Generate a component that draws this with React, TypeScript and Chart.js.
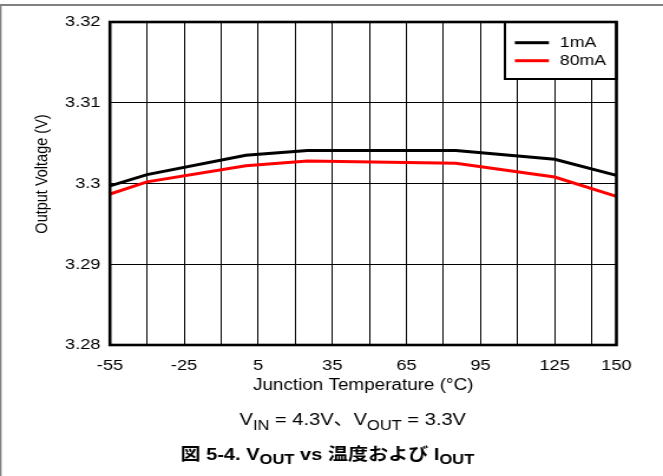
import React, { useEffect, useRef } from 'react';
import { Chart, registerables } from 'chart.js';

Chart.register(...registerables);

// ---- data ----
const temperatures = [-55, -40, 0, 25, 85, 125, 150];
const vout1mA = [3.2997, 3.3011, 3.3035, 3.3041, 3.3041, 3.303, 3.301];
const vout80mA = [3.2987, 3.3002, 3.3022, 3.3028, 3.3025, 3.3008, 3.2984];
const seriesNames = ['1mA', '80mA'];
const seriesColors = ['#000000', '#ff0000'];
const xGridValues = [-55, -40, -25, -10, 5, 20, 35, 50, 65, 80, 95, 110, 125, 140, 150];
const xLabelValues = [-55, -25, 5, 35, 65, 95, 125, 150];
const yTickValues = [3.28, 3.29, 3.3, 3.31, 3.32];
const xTitle = 'Junction Temperature (°C)';
const yTitle = 'Output Voltage (V)';

// ---- layout ----
const CW = 562;
const CH = 476;
const FONT = "'Liberation Sans', Arial, 'Noto Sans CJK JP', sans-serif";

type Run = { text: string; font: string; dy: number };

function drawRuns(ctx: CanvasRenderingContext2D, runs: Run[], cx: number, baseline: number) {
  let total = 0;
  runs.forEach((r) => {
    ctx.font = r.font;
    total += ctx.measureText(r.text).width;
  });
  let x = cx - total / 2;
  ctx.textAlign = 'left';
  ctx.textBaseline = 'alphabetic';
  runs.forEach((r) => {
    ctx.font = r.font;
    ctx.fillText(r.text, x, baseline + r.dy);
    x += ctx.measureText(r.text).width;
  });
}

const decorPlugin = {
  id: 'decor',
  beforeDraw(chart: any) {
    const ctx: CanvasRenderingContext2D = chart.ctx;
    ctx.save();
    ctx.fillStyle = '#ffffff';
    ctx.fillRect(0, 0, chart.width, chart.height);
    ctx.fillStyle = '#808080';
    ctx.fillRect(0, 4, chart.width, 2);
    ctx.fillRect(0, 4, 1.3, chart.height);
    ctx.restore();
  },
  afterDatasetsDraw(chart: any) {
    const ctx: CanvasRenderingContext2D = chart.ctx;
    const a = chart.chartArea;
    ctx.save();

    // legend box
    const lw = 94.5;
    const lh = 57;
    const lx = a.right - lw;
    const ly = a.top;
    ctx.fillStyle = '#ffffff';
    ctx.fillRect(lx, ly, lw, lh);
    ctx.strokeStyle = '#000';
    ctx.lineWidth = 2;
    ctx.strokeRect(lx, ly, lw, lh);
    chart.data.datasets.forEach((ds: any, i: number) => {
      const y = ly + 20.7 + i * 18;
      ctx.strokeStyle = ds.borderColor;
      ctx.lineWidth = 3;
      ctx.beginPath();
      ctx.moveTo(lx + 8.4, y);
      ctx.lineTo(lx + 37.3, y);
      ctx.stroke();
      ctx.fillStyle = '#000';
      ctx.font = `15px ${FONT}`;
      ctx.textAlign = 'left';
      ctx.textBaseline = 'middle';
      ctx.fillText(ds.label, lx + 46.6, y + 0.5);
    });

    // plot frame
    ctx.strokeStyle = '#000';
    ctx.lineWidth = 2.6;
    ctx.strokeRect(a.left, a.top, a.right - a.left, a.bottom - a.top);

    // axis titles
    ctx.fillStyle = '#000';
    ctx.font = `16px ${FONT}`;
    ctx.textAlign = 'center';
    ctx.textBaseline = 'alphabetic';
    ctx.fillText(xTitle, (a.left + a.right) / 2, 389.5);

    ctx.save();
    ctx.translate(35.6, 174);
    ctx.rotate(-Math.PI / 2);
    ctx.font = `14.5px ${FONT}`;
    ctx.textAlign = 'center';
    ctx.textBaseline = 'middle';
    ctx.fillText(yTitle, 0, 0);
    ctx.restore();

    // condition line
    const m = `17px ${FONT}`;
    const s = `14px ${FONT}`;
    drawRuns(
      ctx,
      [
        { text: 'V', font: m, dy: 0 },
        { text: 'IN', font: s, dy: 4.5 },
        { text: ' = 4.3V、V', font: m, dy: 0 },
        { text: 'OUT', font: s, dy: 4.5 },
        { text: ' = 3.3V', font: m, dy: 0 },
      ],
      299,
      425
    );

    // caption
    const bm = `bold 17px ${FONT}`;
    const bs = `bold 14px ${FONT}`;
    drawRuns(
      ctx,
      [
        { text: '図 5-4. V', font: bm, dy: 0 },
        { text: 'OUT', font: bs, dy: 4 },
        { text: ' vs 温度および I', font: bm, dy: 0 },
        { text: 'OUT', font: bs, dy: 4 },
      ],
      277.5,
      460
    );

    ctx.restore();
  },
};

export default function App() {
  const ref = useRef<HTMLCanvasElement | null>(null);

  useEffect(() => {
    document.body.style.margin = '0';
    const canvas = ref.current;
    if (!canvas) return;
    const chart = new Chart(canvas, {
      type: 'line',
      data: {
        datasets: [
          {
            label: seriesNames[0],
            data: temperatures.map((t, i) => ({ x: t, y: vout1mA[i] })),
            borderColor: seriesColors[0],
            backgroundColor: seriesColors[0],
            borderWidth: 3,
            pointRadius: 0,
            tension: 0,
          },
          {
            label: seriesNames[1],
            data: temperatures.map((t, i) => ({ x: t, y: vout80mA[i] })),
            borderColor: seriesColors[1],
            backgroundColor: seriesColors[1],
            borderWidth: 3,
            pointRadius: 0,
            tension: 0,
          },
        ],
      },
      options: {
        responsive: false,
        animation: false,
        devicePixelRatio: 1,
        layout: { padding: { left: 33.2, right: 39.5, top: 22, bottom: 91 } },
        plugins: {
          legend: { display: false },
          tooltip: { enabled: false },
          title: { display: false },
        },
        scales: {
          x: {
            type: 'linear',
            min: -55,
            max: 150,
            afterBuildTicks: (sc: any) => {
              sc.ticks = xGridValues.map((v) => ({ value: v }));
            },
            afterFit: (sc: any) => {
              sc.height = 40;
            },
            ticks: {
              autoSkip: false,
              maxRotation: 0,
              padding: 11,
              color: '#000',
              font: { family: FONT, size: 15.5 },
              callback: (v: any) => (xLabelValues.includes(Number(v)) ? String(v) : ''),
            },
            grid: { color: '#000', lineWidth: 1, drawTicks: false },
            border: { display: false },
          },
          y: {
            type: 'linear',
            min: 3.28,
            max: 3.32,
            afterBuildTicks: (sc: any) => {
              sc.ticks = yTickValues.map((v) => ({ value: v }));
            },
            afterFit: (sc: any) => {
              sc.width = 60;
            },
            ticks: {
              padding: 8,
              color: '#000',
              font: { family: FONT, size: 15.5 },
              callback: (v: any) => String(Number(Number(v).toFixed(2))),
            },
            grid: { color: '#000', lineWidth: 1, drawTicks: false },
            border: { display: false },
          },
        },
      } as any,
      plugins: [decorPlugin],
    });
    return () => chart.destroy();
  }, []);

  return (
    <canvas
      ref={ref}
      width={CW}
      height={CH}
      style={{ display: 'block', width: '663px', height: '476px' }}
    />
  );
}
